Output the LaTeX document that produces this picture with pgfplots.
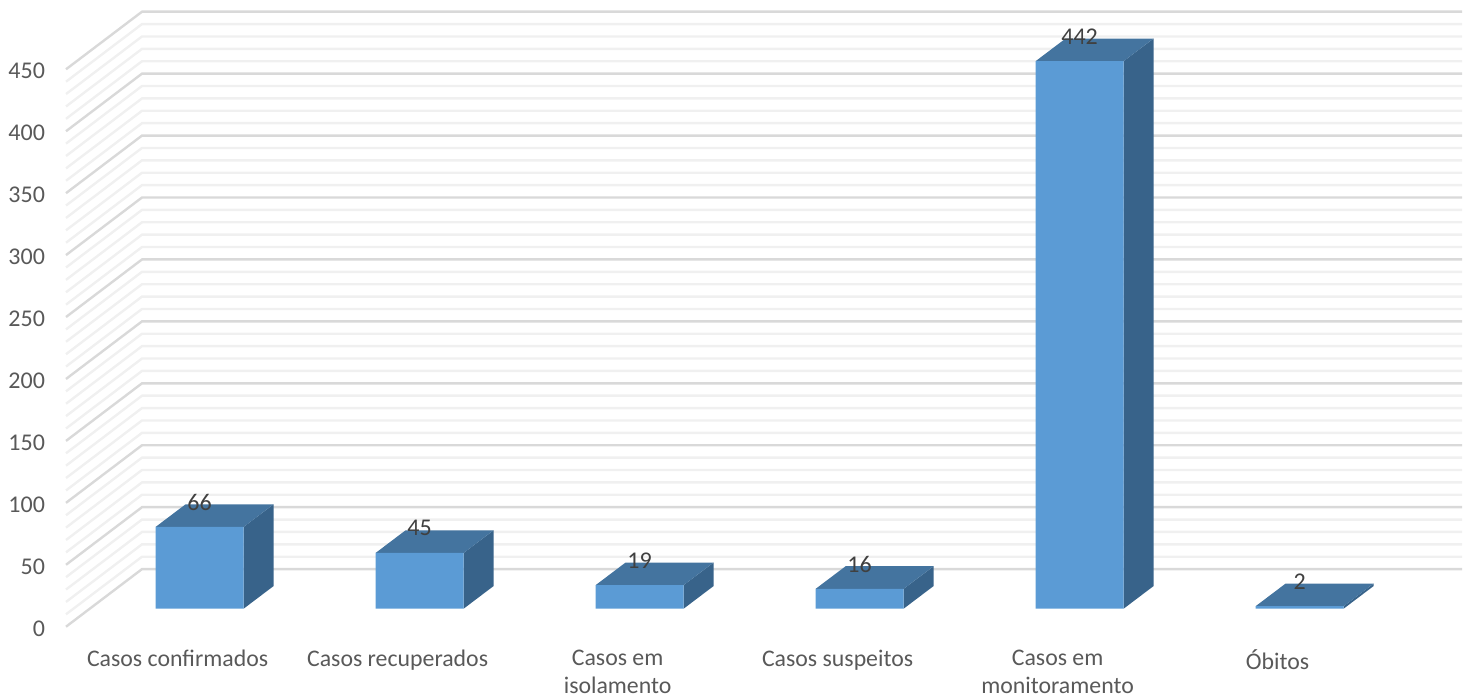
\documentclass[border=0pt]{standalone}
\usepackage{pgfplots}
\usepackage{pgfplotstable}
\usepackage{fontspec}
\setmainfont{Carlito}
\pgfplotsset{compat=1.18}
\definecolor{front}{HTML}{5B9BD5}
\definecolor{topface}{HTML}{44749F}
\definecolor{sideface}{HTML}{38638A}
\definecolor{major}{HTML}{D9D9D9}
\definecolor{minor}{HTML}{F0F0F0}
\definecolor{ticktext}{HTML}{595959}
\definecolor{valtext}{HTML}{404040}
\pgfplotstableread{
x v
0 66
1 45
2 19
3 16
4 442
5 2
}\casos
\begin{document}
\begin{tikzpicture}
% Back wall, ticks and category names
\begin{axis}[
  scale only axis, width=698pt, height=307.5pt,
  at={(0,0)}, anchor=south west,
  xmin=-0.5073, xmax=5.8382, ymin=0, ymax=496.5,
  clip=false,
  axis line style={draw=none},
  major tick length=0pt,
  xtick={0,1,2,3,4,5},
  xticklabels={Casos confirmados,Casos recuperados,{Casos em\\isolamento},Casos suspeitos,{Casos em\\monitoramento},Óbitos},
  xticklabel style={align=center,font=\fontsize{11.9pt}{14pt}\selectfont,text=ticktext,yshift=-8pt},
  ytick={0,50,...,450},
  yticklabel style={font=\fontsize{12pt}{14pt}\selectfont,text=ticktext,xshift=-7pt,yshift=-1pt},
  /pgf/number format/assume math mode=true,
]
\pgfplotsinvokeforeach{10,20,30,40,60,70,80,90,110,120,130,140,160,170,180,190,210,220,230,240,260,270,280,290,310,320,330,340,360,370,380,390,410,420,430,440}{
  \draw[minor,line width=1.2pt] (axis cs:-0.5073,#1) -- (axis cs:-0.1618,#1+46.5) -- (axis cs:5.8382,#1+46.5);
}
\pgfplotsinvokeforeach{0,50,...,450}{
  \draw[major,line width=1.2pt] (axis cs:-0.5073,#1) -- (axis cs:-0.1618,#1+46.5) -- (axis cs:5.8382,#1+46.5);
}
\end{axis}
% Bars: value 0 lies on the front edge of the floor
\begin{axis}[
  scale only axis, width=698pt, height=307.5pt,
  at={(0,0)}, anchor=south west,
  xmin=-0.5073, xmax=5.8382, ymin=-14.53, ymax=481.96,
  clip=false,
  hide axis,
  /pgf/number format/assume math mode=true,
]
% side faces
\addplot[fill=sideface,draw=none] coordinates {(0.3,0) (0.3,66) (0.4364,84.3) (0.4364,18.3)} -- cycle;
\addplot[fill=sideface,draw=none] coordinates {(1.3,0) (1.3,45) (1.4364,63.3) (1.4364,18.3)} -- cycle;
\addplot[fill=sideface,draw=none] coordinates {(2.3,0) (2.3,19) (2.4364,37.3) (2.4364,18.3)} -- cycle;
\addplot[fill=sideface,draw=none] coordinates {(3.3,0) (3.3,16) (3.4364,34.3) (3.4364,18.3)} -- cycle;
\addplot[fill=sideface,draw=none] coordinates {(4.3,0) (4.3,442) (4.4364,460.3) (4.4364,18.3)} -- cycle;
\addplot[fill=sideface,draw=none] coordinates {(5.3,0) (5.3,2) (5.4364,20.3) (5.4364,18.3)} -- cycle;
% top faces
\addplot[fill=topface,draw=none] coordinates {(-0.1,66) (0.3,66) (0.4364,84.3) (0.0364,84.3)} -- cycle;
\addplot[fill=topface,draw=none] coordinates {(0.9,45) (1.3,45) (1.4364,63.3) (1.0364,63.3)} -- cycle;
\addplot[fill=topface,draw=none] coordinates {(1.9,19) (2.3,19) (2.4364,37.3) (2.0364,37.3)} -- cycle;
\addplot[fill=topface,draw=none] coordinates {(2.9,16) (3.3,16) (3.4364,34.3) (3.0364,34.3)} -- cycle;
\addplot[fill=topface,draw=none] coordinates {(3.9,442) (4.3,442) (4.4364,460.3) (4.0364,460.3)} -- cycle;
\addplot[fill=topface,draw=none] coordinates {(4.9,2) (5.3,2) (5.4364,20.3) (5.0364,20.3)} -- cycle;
% front faces with value labels
\addplot[ybar,bar width=44pt,bar shift=11pt,fill=front,draw=none,
  point meta=y,
  nodes near coords,
  nodes near coords style={anchor=center,xshift=11pt,yshift=12.3pt,text=valtext,font=\fontsize{12pt}{14pt}\selectfont},
] table[x=x,y=v] {\casos};
\end{axis}
\pgfresetboundingbox
\path[use as bounding box] (-33pt,-35.15pt) rectangle (703pt,313.35pt);
\end{tikzpicture}
\end{document}
